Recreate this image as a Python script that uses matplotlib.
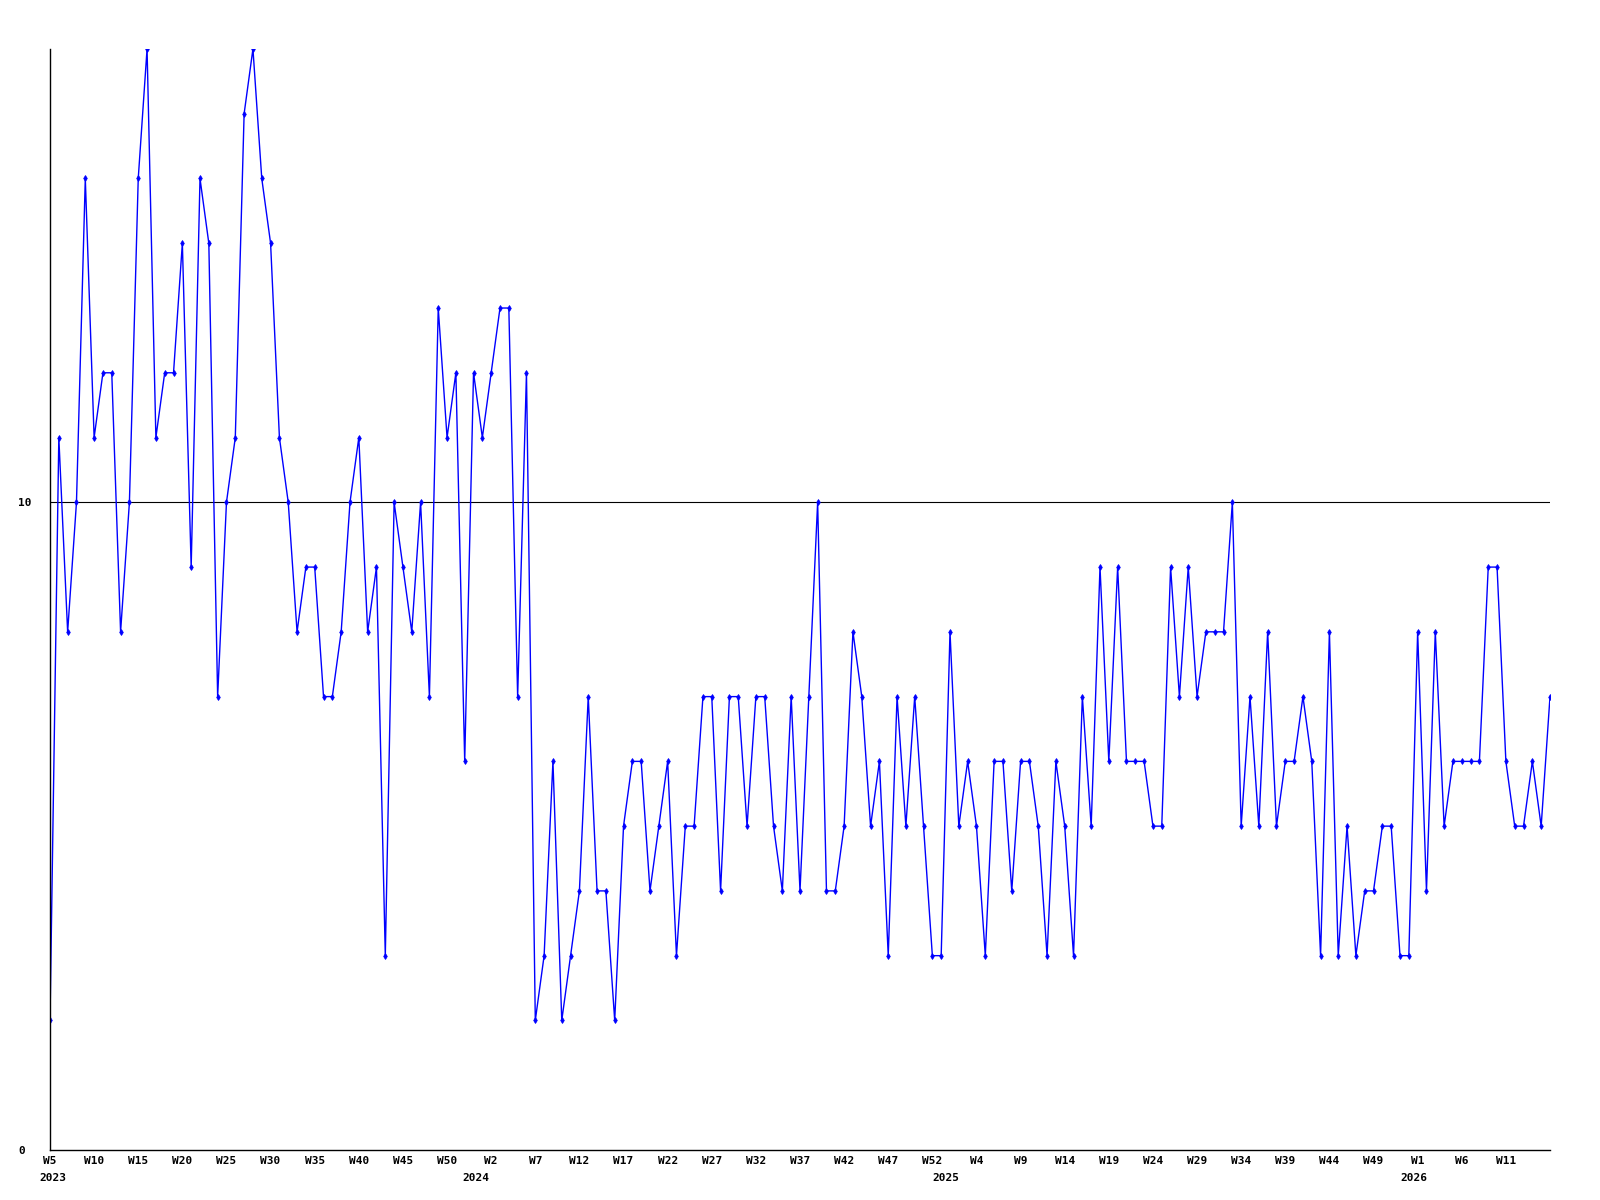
# Weekly counts line chart (W5 2023 .. W15 2026)
import matplotlib
matplotlib.use("Agg")
import matplotlib.pyplot as plt

# weekly values, one per week starting 2023-W5
values = [
    2, 11, 8, 10, 15, 11, 12, 12, 8, 10,
    15, 17, 11, 12, 12, 14, 9, 15, 14, 7,
    10, 11, 16, 17, 15, 14, 11, 10, 8, 9,
    9, 7, 7, 8, 10, 11, 8, 9, 3, 10,
    9, 8, 10, 7, 13, 11, 12, 6, 12, 11,
    12, 13, 13, 7, 12, 2, 3, 6, 2, 3,
    4, 7, 4, 4, 2, 5, 6, 6, 4, 5,
    6, 3, 5, 5, 7, 7, 4, 7, 7, 5,
    7, 7, 5, 4, 7, 4, 7, 10, 4, 4,
    5, 8, 7, 5, 6, 3, 7, 5, 7, 5,
    3, 3, 8, 5, 6, 5, 3, 6, 6, 4,
    6, 6, 5, 3, 6, 5, 3, 7, 5, 9,
    6, 9, 6, 6, 6, 5, 5, 9, 7, 9,
    7, 8, 8, 8, 10, 5, 7, 5, 8, 5,
    6, 6, 7, 6, 3, 8, 3, 5, 3, 4,
    4, 5, 5, 3, 3, 8, 4, 8, 5, 6,
    6, 6, 6, 9, 9, 6, 5, 5, 6, 5,
    7,
]

# tick labels, every 5th week
week_labels = [
    "W5", "W10", "W15", "W20", "W25", "W30", "W35", "W40", "W45", "W50",
    "W2", "W7", "W12", "W17", "W22", "W27", "W32", "W37", "W42", "W47",
    "W52", "W4", "W9", "W14", "W19", "W24", "W29", "W34", "W39", "W44",
    "W49", "W1", "W6", "W11",
]
years = ["2023", "2024", "2025", "2026"]
year_index = [0.3, 48.3, 101.5, 154.6]  # week index where each year starts

font = {"family": "DejaVu Sans Mono", "weight": "bold", "size": 8}

fig = plt.figure(figsize=(16, 12), dpi=100)
ax = fig.add_axes([0.03125, 0.0417, 0.9375, 0.9175])

x = list(range(len(values)))
ax.axhline(10, color="black", lw=0.8, zorder=1)
ax.plot(x, values, color="#0000ff", lw=1.0, marker="d", markersize=3,
        markeredgewidth=0.6, zorder=2)

ax.set_xlim(0, len(values) - 1)
ax.set_ylim(0, 17)

for side in ["top", "right"]:
    ax.spines[side].set_visible(False)
for side in ["left", "bottom"]:
    ax.spines[side].set_linewidth(1.0)

ax.set_xticks(range(0, 5 * len(week_labels), 5))
ax.set_xticklabels(week_labels, fontdict=font)
ax.tick_params(axis="x", length=0, pad=4)

ax.set_yticks([0, 10])
ax.set_yticklabels(["0", "10"], fontdict=font, ha="left")
ax.tick_params(axis="y", length=0, pad=23)

for yr, xi in zip(years, year_index):
    ax.annotate(yr, xy=(xi, 0), xycoords=("data", "axes fraction"),
                xytext=(0, -20), textcoords="offset points",
                ha="center", va="center", **font)

fig.savefig("out.png", dpi=100)
